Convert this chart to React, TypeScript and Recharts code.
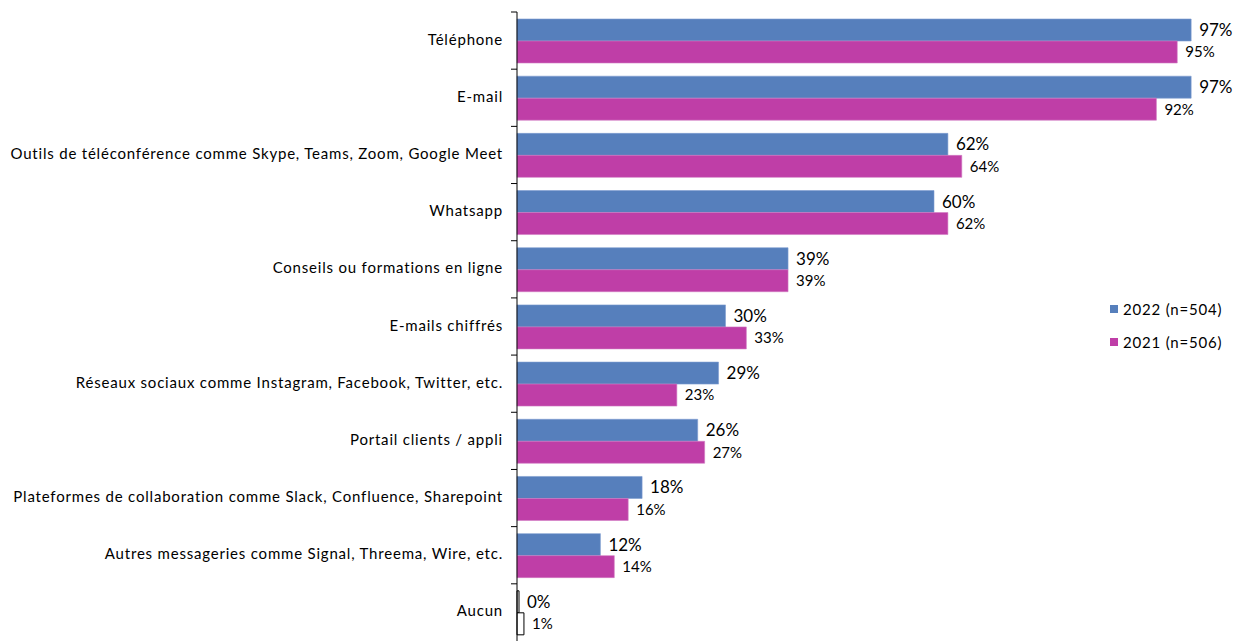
import { BarChart, Bar, XAxis, YAxis, LabelList, Cell } from 'recharts'

const categories = [
    "Téléphone",
    "E-mail",
    "Outils de téléconférence comme Skype, Teams, Zoom, Google Meet",
    "Whatsapp",
    "Conseils ou formations en ligne",
    "E-mails chiffrés",
    "Réseaux sociaux comme Instagram, Facebook, Twitter, etc.",
    "Portail clients / appli",
    "Plateformes de collaboration comme Slack, Confluence, Sharepoint",
    "Autres messageries comme Signal, Threema, Wire, etc.",
    "Aucun",
]
const values2022 = [97, 97, 62, 60, 39, 30, 29, 26, 18, 12, 0]
const values2021 = [95, 92, 64, 62, 39, 33, 23, 27, 16, 14, 1]
const legendLabels = ["2022 (n=504)", "2021 (n=506)"]

const BLUE = "#567fbc"
const PINK = "#bf3ea7"
const FONT = "Lato, 'Open Sans', sans-serif"

const W = 1239
const H = 641
const TOP = 12
const BOTTOM = 0
const BAND = (H - TOP - BOTTOM) / categories.length

const data = categories.map((name, i) => ({
    name,
    y2022: values2022[i],
    y2021: values2021[i],
}))

function CategoryTick(props: any) {
    const { x, y, payload } = props
    return (
        <g>
            <line x1={x + 2} x2={x + 8} y1={y - BAND / 2} y2={y - BAND / 2} stroke="#000" />
            <text x={x - 6} y={y} dy={4} textAnchor="end" fontSize={15} letterSpacing={0.8} fill="#000" fontFamily={FONT}>
                {payload.value}
            </text>
        </g>
    )
}

export default function App() {
    const isLast = (i: number) => i === data.length - 1
    return (
        <div style={{ position: "relative", width: W, height: H, background: "#fff" }}>
            <style>{`body{margin:0}`}</style>
            <BarChart
                width={W}
                height={H}
                data={data}
                layout="vertical"
                margin={{ top: TOP, right: 27, bottom: BOTTOM, left: 0 }}
                barGap={0}
            >
                <XAxis type="number" domain={[0, 100]} hide />
                <YAxis
                    type="category"
                    dataKey="name"
                    width={517}
                    axisLine={{ stroke: "#000" }}
                    tickLine={false}
                    tick={<CategoryTick />}
                    interval={0}
                />
                <Bar dataKey="y2022" barSize={22} fill={BLUE} isAnimationActive={false} minPointSize={2}>
                    {data.map((d, i) => (
                        <Cell
                            key={d.name}
                            fill={isLast(i) ? "#fff" : BLUE}
                            stroke={isLast(i) ? "#000" : "#7e9cd0"}
                            strokeWidth={isLast(i) ? 1 : 0.6}
                        />
                    ))}
                    <LabelList
                        dataKey="y2022"
                        position="right"
                        offset={8}
                        formatter={(v: any) => `${v}%`}
                        style={{ fontSize: 17, fill: "#000", fontFamily: FONT }}
                    />
                </Bar>
                <Bar dataKey="y2021" barSize={22} fill={PINK} isAnimationActive={false}>
                    {data.map((d, i) => (
                        <Cell
                            key={d.name}
                            fill={isLast(i) ? "#fff" : PINK}
                            stroke={isLast(i) ? "#000" : "#d27cc2"}
                            strokeWidth={isLast(i) ? 1 : 0.6}
                        />
                    ))}
                    <LabelList
                        dataKey="y2021"
                        position="right"
                        offset={8}
                        formatter={(v: any) => `${v}%`}
                        style={{ fontSize: 15, fill: "#000", fontFamily: FONT }}
                    />
                </Bar>
            </BarChart>
            <div style={{ position: "absolute", left: 1110, top: 292, fontFamily: FONT, fontSize: 15, letterSpacing: 0.8, color: "#000" }}>
                {legendLabels.map((label, i) => (
                    <div key={label} style={{ display: "flex", alignItems: "center", height: 33 }}>
                        <span style={{ width: 8, height: 8, background: i === 0 ? BLUE : PINK, marginRight: 5, display: "inline-block" }} />
                        {label}
                    </div>
                ))}
            </div>
        </div>
    )
}
